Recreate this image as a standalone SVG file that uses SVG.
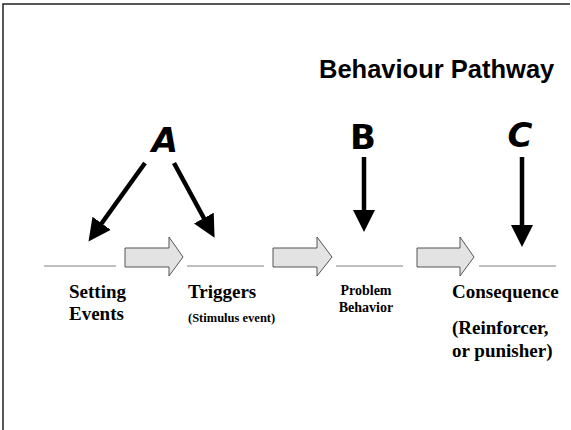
<svg xmlns="http://www.w3.org/2000/svg" width="571" height="430" viewBox="0 0 571 430">
<defs>
<style>
.frame{stroke:#222;stroke-width:1.5;fill:none}
.base{stroke:#808080;stroke-width:1.2}
.block{fill:#e3e3e3;stroke:#555;stroke-width:1}
.ptr{stroke:#000;stroke-width:4.5;fill:none}
.lbl{font-family:"Liberation Serif","Times New Roman",serif;font-weight:bold;fill:#000}
.big{font-size:19px}
.mid{font-size:14px}
.sm{font-size:12.5px}
.letter{font-family:"Comic Sans MS","DejaVu Sans",sans-serif;font-weight:bold;font-size:34px;text-anchor:middle;fill:#000}
.title{font-family:"Liberation Sans",Arial,sans-serif;font-weight:bold;font-size:25.5px;fill:#000}
</style>
<marker id="head" markerWidth="5" markerHeight="5" refX="1" refY="2.5" orient="auto" markerUnits="strokeWidth" viewBox="0 0 5 5">
<path d="M0,0 L5,2.5 L0,5 Z" fill="#000"/>
</marker>
</defs>
<rect width="571" height="430" fill="#fff"/>
<path class="frame" d="M3,430 V4 H570"/>
<text class="title" x="319" y="78">Behaviour Pathway</text>

<g id="connectors">
<line class="ptr" x1="145" y1="163" x2="99" y2="227" marker-end="url(#head)"/>
<line class="ptr" x1="174" y1="163" x2="206" y2="222" marker-end="url(#head)"/>
<line class="ptr" x1="364" y1="157" x2="364" y2="214" marker-end="url(#head)"/>
<line class="ptr" x1="522" y1="157" x2="522" y2="229" marker-end="url(#head)"/>
<path class="block" d="M125,248 H169 V237 L183,257 L169,276 V267 H125 Z"/>
<path class="block" d="M273,248 H317 V237 L332,257 L317,276 V267 H273 Z"/>
<path class="block" d="M417,248 H460 V237 L474,257 L460,276 V267 H417 Z"/>
</g>

<g id="label-A"><text class="letter" x="165" y="152" font-style="italic">A</text></g>
<g id="label-B"><text class="letter" x="363" y="149">B</text></g>
<g id="label-C"><text class="letter" x="520" y="147" font-style="italic">C</text></g>

<g id="setting-events">
<line class="base" x1="44" y1="266" x2="116" y2="266"/>
<text class="lbl big" x="69" y="298">Setting</text>
<text class="lbl big" x="69" y="320">Events</text>
</g>
<g id="triggers">
<line class="base" x1="187" y1="266" x2="264" y2="266"/>
<text class="lbl big" x="188" y="298">Triggers</text>
<text class="lbl sm" x="188" y="322">(Stimulus event)</text>
</g>
<g id="problem-behavior">
<line class="base" x1="336" y1="266" x2="403" y2="266"/>
<text class="lbl mid" x="366" y="295" text-anchor="middle">Problem</text>
<text class="lbl mid" x="366" y="312" text-anchor="middle">Behavior</text>
</g>
<g id="consequence">
<line class="base" x1="479" y1="266" x2="556" y2="266"/>
<text class="lbl big" x="452" y="298">Consequence</text>
<text class="lbl big" x="452" y="334">(Reinforcer,</text>
<text class="lbl big" x="452" y="357">or punisher)</text>
</g>
</svg>
